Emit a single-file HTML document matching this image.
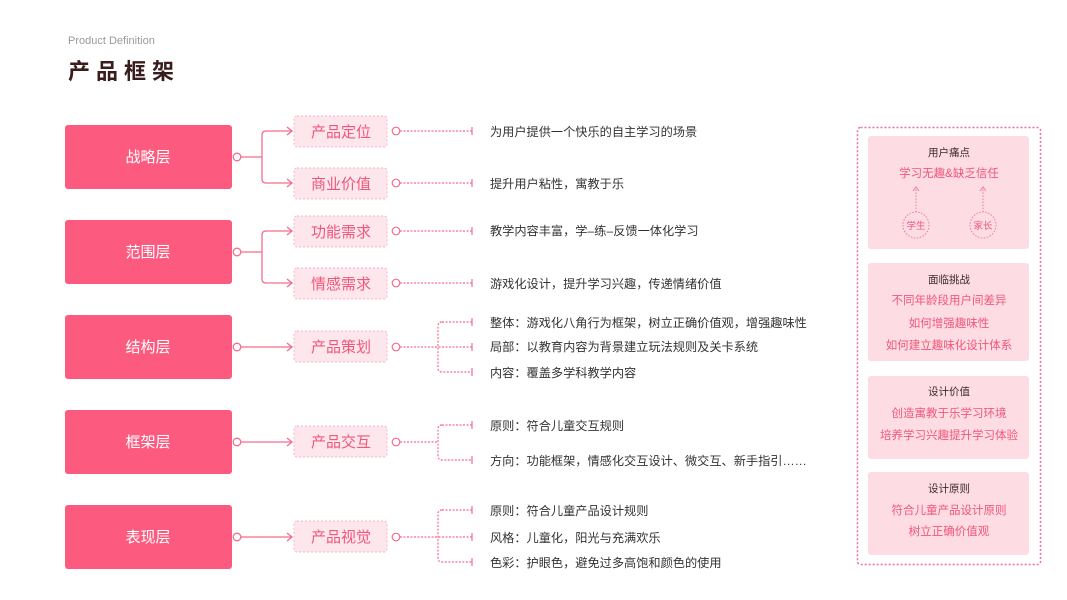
<!DOCTYPE html>
<html><head><meta charset="utf-8"><style>
html,body{margin:0;padding:0;background:#fff;}
svg{display:block;}
text{font-family:"Liberation Sans","Noto Sans CJK SC",sans-serif;}
</style></head><body>
<svg width="1067" height="600" viewBox="0 0 1067 600" xmlns="http://www.w3.org/2000/svg">
<text x="68" y="44" font-size="11" fill="#9a9a9a">Product Definition</text>
<text x="68" y="79" font-size="22" font-weight="bold" fill="#3b1c1c" letter-spacing="6">产品框架</text>

<g fill="#fc5b7f">
<rect x="65" y="125" width="167" height="64" rx="3"/>
<rect x="65" y="220" width="167" height="64" rx="3"/>
<rect x="65" y="315" width="167" height="64" rx="3"/>
<rect x="65" y="410" width="167" height="64" rx="3"/>
<rect x="65" y="505" width="167" height="64" rx="3"/>
</g>
<g fill="#fff" font-size="15" text-anchor="middle">
<text x="148" y="162">战略层</text>
<text x="148" y="257">范围层</text>
<text x="148" y="352">结构层</text>
<text x="148" y="447">框架层</text>
<text x="148" y="542">表现层</text>
</g>

<g fill="none" stroke="#f46d8b" stroke-width="1.3">
<circle cx="237" cy="157" r="3.8" fill="#fff"/>
<path d="M241 157H262M266 131Q262 131 262 135V179Q262 183 266 183M266 131H292M266 183H292M287 127L292 131L287 135M287 179L292 183L287 187"/>
<circle cx="237" cy="252" r="3.8" fill="#fff"/>
<path d="M241 252H262M266 231Q262 231 262 235V279Q262 283 266 283M266 231H292M266 283H292M287 227L292 231L287 235M287 279L292 283L287 287"/>
<circle cx="237" cy="347" r="3.8" fill="#fff"/>
<path d="M241 347H292M287 343L292 347L287 351"/>
<circle cx="237" cy="442" r="3.8" fill="#fff"/>
<path d="M241 442H292M287 438L292 442L287 446"/>
<circle cx="237" cy="537" r="3.8" fill="#fff"/>
<path d="M241 537H292M287 533L292 537L287 541"/>
</g>

<g fill="#fde6ec" stroke="#f8b6c6" stroke-width="1" stroke-dasharray="2 2">
<rect x="294" y="116" width="93" height="31" rx="3"/>
<rect x="294" y="168" width="93" height="31" rx="3"/>
<rect x="294" y="216" width="93" height="31" rx="3"/>
<rect x="294" y="268" width="93" height="31" rx="3"/>
<rect x="294" y="331" width="93" height="31" rx="3"/>
<rect x="294" y="426" width="93" height="31" rx="3"/>
<rect x="294" y="521" width="93" height="31" rx="3"/>
</g>
<g fill="#f0577a" font-size="15" text-anchor="middle">
<text x="341" y="137">产品定位</text>
<text x="341" y="189">商业价值</text>
<text x="341" y="237">功能需求</text>
<text x="341" y="289">情感需求</text>
<text x="341" y="352">产品策划</text>
<text x="341" y="447">产品交互</text>
<text x="341" y="542">产品视觉</text>
</g>

<g fill="none" stroke="#f46d8b" stroke-width="1.2">
<g fill="#fff"><circle cx="396" cy="131" r="3.8"/><circle cx="396" cy="183" r="3.8"/><circle cx="396" cy="231" r="3.8"/><circle cx="396" cy="283" r="3.8"/><circle cx="396" cy="347" r="3.8"/><circle cx="396" cy="442" r="3.8"/><circle cx="396" cy="537" r="3.8"/></g>
<g stroke-dasharray="2 1.5">
<path d="M400 131H472M400 183H472M400 231H472M400 283H472"/>
<path d="M400 347H472M442 322Q438 322 438 326V368Q438 372 442 372H472M442 322H472"/>
<path d="M400 442H438M442 425Q438 425 438 429V456Q438 460 442 460H472M442 425H472"/>
<path d="M400 537H472M442 510Q438 510 438 514V558Q438 562 442 562H472M442 510H472"/>
</g>
<path d="M472 127V135M472 179V187M472 227V235M472 279V287M472 318V326M472 343V351M472 368V376M472 421V429M472 456V464M472 506V514M472 533V541M472 558V566"/>
</g>

<g fill="#333" font-size="12.2">
<text x="490" y="136">为用户提供一个快乐的自主学习的场景</text>
<text x="490" y="188">提升用户粘性，寓教于乐</text>
<text x="490" y="235">教学内容丰富，学–练–反馈一体化学习</text>
<text x="490" y="288">游戏化设计，提升学习兴趣，传递情绪价值</text>
<text x="490" y="327">整体：游戏化八角行为框架，树立正确价值观，增强趣味性</text>
<text x="490" y="351">局部：以教育内容为背景建立玩法规则及关卡系统</text>
<text x="490" y="377">内容：覆盖多学科教学内容</text>
<text x="490" y="430">原则：符合儿童交互规则</text>
<text x="490" y="465">方向：功能框架，情感化交互设计、微交互、新手指引……</text>
<text x="490" y="515">原则：符合儿童产品设计规则</text>
<text x="490" y="542">风格：儿童化，阳光与充满欢乐</text>
<text x="490" y="567">色彩：护眼色，避免过多高饱和颜色的使用</text>
</g>

<rect x="857.5" y="127.5" width="183" height="437" rx="3" fill="none" stroke="#f46d8b" stroke-width="1.5" stroke-dasharray="2 2"/>
<g fill="#fddce3">
<rect x="868" y="136" width="161" height="113" rx="3"/>
<rect x="868" y="263" width="161" height="98" rx="3"/>
<rect x="868" y="376" width="161" height="83" rx="3"/>
<rect x="868" y="472" width="161" height="83" rx="3"/>
</g>
<g font-size="10.5" fill="#3b2a2a" text-anchor="middle">
<text x="949" y="156">用户痛点</text>
<text x="949" y="283">面临挑战</text>
<text x="949" y="395">设计价值</text>
<text x="949" y="492">设计原则</text>
</g>
<g font-size="11.5" fill="#f0577a" text-anchor="middle">
<text x="949" y="177">学习无趣&amp;缺乏信任</text>
<text x="949" y="304">不同年龄段用户间差异</text>
<text x="949" y="327">如何增强趣味性</text>
<text x="949" y="349">如何建立趣味化设计体系</text>
<text x="949" y="417">创造寓教于乐学习环境</text>
<text x="949" y="439">培养学习兴趣提升学习体验</text>
<text x="949" y="514">符合儿童产品设计原则</text>
<text x="949" y="535">树立正确价值观</text>
</g>
<g fill="none" stroke="#f07c98" stroke-width="1" stroke-dasharray="1.5 1.5">
<circle cx="916" cy="225" r="13"/><circle cx="983" cy="225" r="13"/>
<path d="M916 212V188M983 212V188"/>
</g>
<path d="M913 191L916 187L919 191M980 191L983 187L986 191" fill="none" stroke="#f07c98" stroke-width="1"/>
<g font-size="9.5" fill="#f0577a" text-anchor="middle">
<text x="916" y="229">学生</text><text x="983" y="229">家长</text>
</g>
</svg>
</body></html>
